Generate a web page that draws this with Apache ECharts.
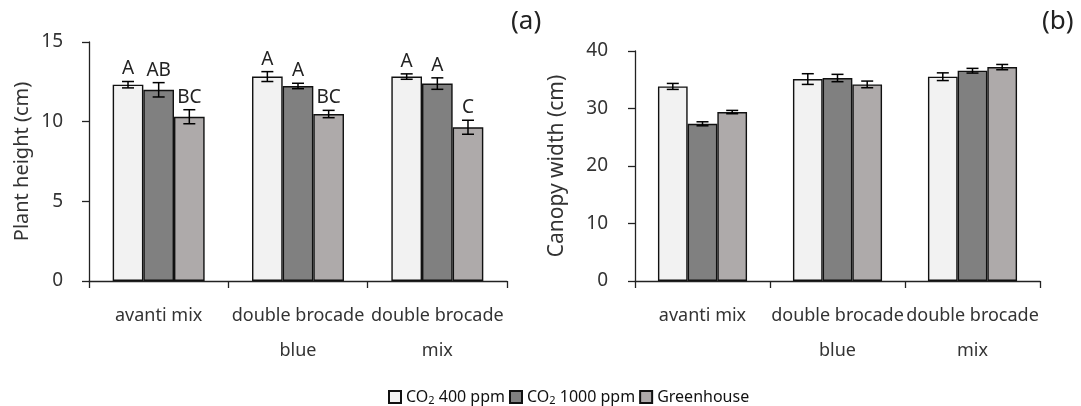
<!DOCTYPE html>
<html><head><meta charset="utf-8">
<script src="https://cdn.jsdelivr.net/npm/echarts@6/dist/echarts.min.js"></script>
<style>html,body{margin:0;padding:0;background:#fff}#c{width:1081px;height:406px}</style>
</head><body><div id="c"></div>
<script>
const categories = ['avanti mix', 'double brocade\nblue', 'double brocade\nmix'];
const seriesNames = ['CO2 400 ppm', 'CO2 1000 ppm', 'Greenhouse'];
// Panel (a) plant height (cm)
const heightCO2400 = [12.32, 12.83, 12.83];
const heightCO21000 = [12.0, 12.24, 12.39];
const heightGreenhouse = [10.31, 10.48, 9.65];
const heightErrCO2400 = [0.2, 0.31, 0.17];
const heightErrCO21000 = [0.45, 0.17, 0.36];
const heightErrGreenhouse = [0.44, 0.23, 0.44];
const heightLetters400 = ['A', 'A', 'A'];
const heightLetters1000 = ['AB', 'A', 'A'];
const heightLettersGH = ['BC', 'BC', 'C'];
// Panel (b) canopy width (cm)
const widthCO2400 = [33.84, 35.12, 35.53];
const widthCO21000 = [27.34, 35.3, 36.57];
const widthGreenhouse = [29.38, 34.19, 37.2];
const widthErrCO2400 = [0.52, 0.93, 0.67];
const widthErrCO21000 = [0.35, 0.64, 0.41];
const widthErrGreenhouse = [0.29, 0.58, 0.46];
const yTicksA = [0, 5, 10, 15];
const yTicksB = [0, 10, 20, 30, 40];

const colors = ['#f2f2f2', '#808080', '#aeaaaa'];
const FONT = 'Noto Sans';
const CAT_GAP = 0.34;

const errLabels = {};
function errData(vals, errs, k) {
  return vals.map((v, i) => [i, v, errs[i], k]);
}
function renderErr(params, api) {
  const ci = api.value(0), v = api.value(1), e = api.value(2), k = api.value(3);
  const labels = errLabels[params.seriesIndex] || [];
  const label = labels[params.dataIndex] || '';
  const c = api.coord([ci, v]);
  const w = api.size([1, 0])[0];
  const bw = w * (1 - CAT_GAP) / 3;
  const x = c[0] + (k - 1) * bw;
  const top = api.coord([ci, v + e])[1];
  const bot = api.coord([ci, v - e])[1];
  const cap = 6;
  const st = { stroke: '#000', lineWidth: 1.5 };
  const children = [
    { type: 'line', shape: { x1: x, y1: top, x2: x, y2: bot }, style: st },
    { type: 'line', shape: { x1: x - cap, y1: top, x2: x + cap, y2: top }, style: st },
    { type: 'line', shape: { x1: x - cap, y1: bot, x2: x + cap, y2: bot }, style: st }
  ];
  if (label) {
    children.push({ type: 'text', style: { text: label, x: x, y: top - 3, align: 'center', verticalAlign: 'bottom',
      fontFamily: FONT, fontSize: 19, fill: '#222' } });
  }
  return { type: 'group', children: children };
}

const series = [];
function addPanel(idx, vals, errs, letters) {
  vals.forEach((arr, k) => {
    series.push({ name: seriesNames[k], type: 'bar', xAxisIndex: idx, yAxisIndex: idx, data: arr,
      barGap: '0%', barCategoryGap: (CAT_GAP * 100) + '%',
      itemStyle: { color: colors[k], borderColor: '#111', borderWidth: 1.4 }, silent: true });
  });
  vals.forEach((arr, k) => {
    errLabels[series.length] = letters ? letters[k] : [];
    series.push({ type: 'custom', xAxisIndex: idx, yAxisIndex: idx, data: errData(arr, errs[k], k),
      encode: { x: 0, y: 1 }, renderItem: renderErr, z: 5, silent: true });
  });
}
addPanel(0, [heightCO2400, heightCO21000, heightGreenhouse], [heightErrCO2400, heightErrCO21000, heightErrGreenhouse],
  [heightLetters400, heightLetters1000, heightLettersGH]);
addPanel(1, [widthCO2400, widthCO21000, widthGreenhouse], [widthErrCO2400, widthErrCO21000, widthErrGreenhouse], null);

const axisLineStyle = { color: '#222', width: 1.3 };
function xAx(gi) {
  return { type: 'category', gridIndex: gi, data: categories,
    axisLine: { lineStyle: axisLineStyle }, axisTick: { show: true, length: 7, lineStyle: axisLineStyle },
    axisLabel: { fontFamily: FONT, fontSize: 18, color: '#333', lineHeight: 35, margin: 17, interval: 0 } };
}
function yAx(gi, ticks, name, gap, nameSize, margin) {
  return { type: 'value', gridIndex: gi, min: ticks[0], max: ticks[ticks.length - 1], interval: ticks[1] - ticks[0],
    name: name, nameLocation: 'middle', nameGap: gap, nameTextStyle: { fontFamily: FONT, fontSize: nameSize, color: '#333' },
    axisLine: { show: true, lineStyle: axisLineStyle }, axisTick: { show: true, length: 7, lineStyle: axisLineStyle },
    splitLine: { show: false },
    axisLabel: { fontFamily: FONT, fontSize: 19, color: '#333', margin: margin } };
}

const chart = echarts.init(document.getElementById('c'), null, { renderer: 'canvas' });
chart.setOption({
  animation: false,
  backgroundColor: '#fff',
  grid: [
    { left: 89, right: 574, top: 42, bottom: 125 },
    { left: 635, right: 41, top: 51, bottom: 125 }
  ],
  xAxis: [xAx(0), xAx(1)],
  yAxis: [yAx(0, yTicksA, 'Plant height (cm)', 57, 20, 26), yAx(1, yTicksB, 'Canopy width (cm)', 67, 21, 27)],
  legend: {
    data: seriesNames, top: 384, left: 383, itemWidth: 12, itemHeight: 12, itemGap: 4,
    icon: 'rect',
    formatter: n => n.startsWith('CO2') ? '{a|CO}{s|2}{a|' + n.slice(3) + '}' : '{a|' + n + '}',
    textStyle: { rich: { a: { fontFamily: FONT, fontSize: 16, color: '#111' }, s: { fontFamily: FONT, fontSize: 11, color: '#111', padding: [8, 0, 0, 0] } } }
  },
  graphic: [
    { type: 'text', left: 511, top: 9, style: { text: '(a)', fontFamily: FONT, fontSize: 26, fill: '#222' } },
    { type: 'text', left: 1042, top: 9, style: { text: '(b)', fontFamily: FONT, fontSize: 26, fill: '#222' } }
  ],
  series: series
});
</script></body></html>
